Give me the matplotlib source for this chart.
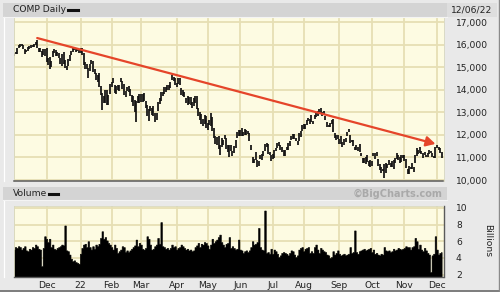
import matplotlib
matplotlib.use("Agg")
import matplotlib.pyplot as plt
from matplotlib.patches import Rectangle
from matplotlib.lines import Line2D
import numpy as np
import pandas as pd

W, H = 500, 292

# ---------------- data: daily (low, high) of COMP, per month ----------------
nov21 = [(15480, 15610), (15570, 15680), (15600, 15830), (15830, 15970), (15880, 16020),
         (15920, 16018), (15820, 15990), (15590, 15810), (15660, 15780), (15700, 15880),
         (15800, 15920), (15850, 15990), (15880, 15990), (15880, 16010), (15960, 16120),
         (15840, 16212), (15670, 15860), (15660, 15850), (15470, 15710), (15560, 15810),
         (15500, 15800)]
dec21 = [(15250, 15850), (15080, 15420), (14930, 15440), (15000, 15260), (15450, 15700),
         (15620, 15800), (15500, 15770), (15510, 15690), (15390, 15620), (15150, 15400),
         (15050, 15580), (15160, 15690), (14980, 15330), (14860, 15050), (15050, 15350),
         (15280, 15530), (15530, 15700), (15680, 15880), (15750, 15900), (15660, 15820),
         (15730, 15870), (15640, 15770)]
jan22 = [(15640, 15840), (15530, 15850), (15100, 15620), (14940, 15250), (14900, 15120),
         (14530, 14950), (14820, 15160), (15130, 15320), (14790, 15260), (14690, 14910),
         (14440, 14720), (14330, 14660), (14130, 14730), (13770, 14180), (13094, 13870),
         (13390, 13720), (13410, 14000), (13320, 13970), (13330, 13780), (13810, 14250)]
feb22 = [(14110, 14360), (14310, 14520), (13850, 14200), (13830, 14170), (13990, 14230),
         (13940, 14220), (14360, 14500), (14040, 14400), (13760, 14260), (13690, 13950),
         (13950, 14140), (13920, 14150), (13700, 14050), (13450, 13780), (13260, 13710),
         (13030, 13530), (12587, 13490), (13400, 13710), (13430, 13790)]
mar22 = [(13450, 13800), (13450, 13790), (13490, 13860), (13170, 13480), (12830, 13310),
         (12610, 13140), (13050, 13300), (12890, 13190), (12830, 13260), (12555, 12960),
         (12650, 12950), (13060, 13440), (13370, 13620), (13520, 13900), (13710, 13910),
         (13830, 14130), (13920, 14120), (13980, 14200), (14000, 14230), (14080, 14360),
         (14430, 14650), (14400, 14580), (14210, 14500)]
apr22 = [(14110, 14300), (14260, 14540), (14190, 14500), (13760, 14060), (13700, 13980),
         (13690, 13880), (13400, 13630), (13340, 13740), (13370, 13680), (13340, 13670),
         (13210, 13440), (13300, 13650), (13420, 13720), (13160, 13710), (12830, 13200),
         (12670, 13010), (12490, 12920), (12380, 12700), (12500, 12900), (12320, 12850)]
may22 = [(12200, 12540), (12420, 12640), (12410, 12980), (12170, 12770), (11860, 12290),
         (11600, 11970), (11550, 11920), (11360, 11950), (11110, 11530), (11480, 11840),
         (11560, 11780), (11820, 11990), (11390, 11860), (11240, 11560), (11036, 11560),
         (11300, 11540), (11060, 11300), (11200, 11490), (11400, 11790), (11880, 12140),
         (11950, 12200)]
jun22 = [(11930, 12230), (11930, 12320), (11950, 12130), (12010, 12270), (11980, 12200),
         (12060, 12190), (11750, 12080), (11320, 11560), (10760, 11010), (10740, 10930),
         (10890, 11240), (10565, 10870), (10640, 10860), (10940, 11120), (10880, 11150),
         (11080, 11270), (11290, 11610), (11460, 11640), (11170, 11590), (11100, 11260),
         (10860, 11110)]
jul22 = [(10920, 11140), (10970, 11330), (11270, 11440), (11440, 11640), (11510, 11700),
         (11350, 11530), (11250, 11480), (11060, 11350), (11070, 11310), (11340, 11480),
         (11350, 11650), (11500, 11720), (11770, 11950), (11820, 12060), (11800, 12060),
         (11720, 11860), (11560, 11730), (11750, 12080), (11920, 12190), (12170, 12430)]
aug22 = [(12260, 12460), (12240, 12480), (12420, 12680), (12610, 12750), (12480, 12690),
         (12580, 12860), (12460, 12620), (12700, 12860), (12770, 12970), (12850, 13050),
         (12990, 13140), (12950, 13181), (12830, 13000), (12900, 13040), (12680, 12840),
         (12360, 12570), (12350, 12440), (12340, 12520), (12480, 12650), (12140, 12690),
         (11880, 12070), (11790, 12010), (11810, 12000)]
sep22 = [(11600, 11800), (11610, 11970), (11460, 11680), (11550, 11810), (11700, 11880),
         (11950, 12140), (12130, 12270), (11630, 11990), (11670, 11780), (11520, 11760),
         (11320, 11460), (11340, 11540), (11300, 11480), (11220, 11580), (11050, 11200),
         (10740, 10960), (10760, 10980), (10720, 11030), (10810, 11090), (10620, 10850),
         (10570, 10870)]
oct22 = [(10600, 10830), (11050, 11190), (10910, 11210), (11050, 11220), (10640, 10930),
         (10460, 10700), (10320, 10560), (10390, 10500), (10089, 10700), (10320, 10760),
         (10530, 10700), (10660, 10900), (10560, 10760), (10570, 10850), (10480, 10870),
         (10740, 10970), (10950, 11200), (10900, 11130), (10740, 11000), (10810, 11110),
         (10960, 11090)]
nov22 = [(10850, 11090), (10520, 10930), (10260, 10470), (10260, 10600), (10470, 10590),
         (10480, 10760), (10350, 10590), (10770, 11120), (11060, 11410), (11150, 11330),
         (11200, 11480), (11150, 11290), (10980, 11200), (11090, 11250), (11010, 11110),
         (11040, 11180), (11150, 11310), (11200, 11280), (11040, 11200), (10960, 11070),
         (10990, 11470)]
dec22 = [(11400, 11570), (11320, 11470), (11210, 11400), (10980, 11250)]

# ---------------- data: daily volume (billions), per month ----------------
vol_nov21 = [5.0, 5.3, 5.2, 5.4, 5.3, 5.0, 5.2, 5.4, 4.9, 4.8, 5.1, 5.0, 5.3, 5.2, 5.6,
             5.4, 5.1, 5.0, 3.0, 5.2, 6.6]
vol_dec21 = [6.3, 5.9, 6.3, 5.3, 5.6, 5.1, 5.0, 5.2, 5.3, 5.4, 5.6, 5.5, 7.9, 4.9, 4.8,
             4.4, 3.9, 3.6, 3.7, 3.5, 3.4, 3.3]
vol_jan22 = [4.5, 5.2, 5.6, 5.7, 5.3, 6.0, 5.3, 5.0, 5.4, 5.1, 5.6, 5.4, 5.7, 6.4, 7.2,
             6.3, 6.5, 6.1, 5.8, 5.6]
vol_feb22 = [5.3, 5.0, 5.6, 5.2, 4.6, 4.8, 5.0, 5.4, 5.3, 4.7, 4.9, 4.7, 4.9, 5.1, 5.3,
             5.5, 6.2, 5.4, 5.8]
vol_mar22 = [5.6, 5.1, 5.0, 5.2, 6.6, 6.3, 5.6, 5.0, 5.1, 5.4, 5.6, 6.4, 5.7, 8.3, 5.4,
             5.3, 5.1, 5.2, 5.0, 5.2, 5.6, 5.3, 5.4]
vol_apr22 = [5.0, 5.2, 5.3, 5.6, 5.4, 5.2, 5.0, 5.1, 4.9, 5.0, 4.8, 4.9, 5.3, 5.5, 5.8,
             5.3, 5.7, 5.6, 5.9, 5.8]
vol_may22 = [5.5, 5.1, 5.6, 6.3, 5.8, 6.0, 6.2, 6.5, 6.8, 5.9, 5.6, 5.3, 5.7, 5.8, 6.5,
             5.2, 5.4, 5.2, 5.0, 5.1, 6.2]
vol_jun22 = [5.0, 4.9, 4.6, 4.8, 4.9, 4.7, 4.9, 5.3, 6.0, 5.6, 5.7, 5.9, 7.6, 5.3, 5.0,
             4.9, 9.7, 4.6, 4.7, 4.5, 5.1]
vol_jul22 = [4.5, 5.0, 4.8, 4.5, 4.1, 4.3, 4.6, 4.7, 4.6, 4.5, 4.3, 4.6, 4.9, 4.8, 4.4,
             4.1, 4.3, 5.0, 5.2, 5.3]
vol_aug22 = [4.8, 5.1, 5.2, 5.3, 4.6, 4.8, 4.6, 5.3, 5.6, 5.0, 4.6, 5.2, 5.0, 4.8, 4.7,
             4.4, 4.3, 4.0, 4.1, 4.8, 4.4, 4.6, 4.9]
vol_sep22 = [4.5, 4.3, 4.4, 4.5, 4.3, 4.4, 4.5, 5.3, 4.6, 4.7, 7.3, 4.7, 4.5, 4.8, 4.9,
             5.0, 5.1, 4.9, 5.0, 5.1, 5.2]
vol_oct22 = [4.7, 5.0, 4.5, 4.6, 4.4, 4.3, 4.5, 4.4, 5.3, 4.9, 4.8, 4.9, 4.7, 4.8, 5.1,
             4.9, 5.0, 5.2, 5.1, 5.0, 5.1]
vol_nov22 = [5.2, 5.4, 5.3, 5.3, 5.0, 5.3, 5.4, 6.4, 6.0, 5.1, 5.6, 5.0, 4.8, 5.2, 4.9,
             4.6, 4.4, 2.3, 4.3, 4.5, 6.6]
vol_dec22 = [5.0, 4.4, 4.6, 4.7]

months = ["2021-11", "2021-12", "2022-01", "2022-02", "2022-03", "2022-04", "2022-05",
          "2022-06", "2022-07", "2022-08", "2022-09", "2022-10", "2022-11", "2022-12"]
price_months = [nov21, dec21, jan22, feb22, mar22, apr22, may22, jun22, jul22, aug22,
                sep22, oct22, nov22, dec22]
vol_months = [vol_nov21, vol_dec21, vol_jan22, vol_feb22, vol_mar22, vol_apr22, vol_may22,
              vol_jun22, vol_jul22, vol_aug22, vol_sep22, vol_oct22, vol_nov22, vol_dec22]
holidays = ["2021-11-25", "2021-12-24", "2022-01-17", "2022-02-21", "2022-04-15",
            "2022-05-30", "2022-06-20", "2022-07-04", "2022-09-05", "2022-11-24"]
month_labels = ["", "Dec", "22", "Feb", "Mar", "Apr", "May", "Jun", "Jul", "Aug",
                "Sep", "Oct", "Nov", "Dec"]
price_ticks = [10000, 11000, 12000, 13000, 14000, 15000, 16000, 17000]
vol_ticks = [2, 4, 6, 8, 10]
trend_start = ("2021-11-22", 16290)
trend_end = ("2022-11-30", 11600)
title_text = "COMP Daily"
date_text = "12/06/22"

# ---------------- trading-day index (BigCharts spaces by trading day) -------------
days = pd.bdate_range("2021-11-01", "2022-12-06")
days = days[~days.isin(pd.to_datetime(holidays))]
day_month = days.strftime("%Y-%m")

idx, lows, highs, vols = [], [], [], []
month_first = []
for m, pm, vm in zip(months, price_months, vol_months):
    pos = np.where(day_month == m)[0]
    month_first.append(pos[0])
    for p, lh, v in zip(pos, pm, vm):
        idx.append(p)
        lows.append(lh[0])
        highs.append(lh[1])
        vols.append(v)
idx = np.array(idx, float)


def day_index(s):
    d = pd.Timestamp(s)
    return float(np.searchsorted(days, d))


# ---------------- figure ----------------
fig = plt.figure(figsize=(W / 100, H / 100), dpi=100)
fig.patch.set_facecolor("#e9e9e9")


def fx(x):
    return x / W


def fy(y):
    return 1 - y / H


def rect_px(x0, y0, x1, y1, color, z=0, ec="none", lw=0):
    fig.add_artist(Rectangle((fx(x0), fy(y1)), fx(x1) - fx(x0), fy(y0) - fy(y1),
                             transform=fig.transFigure, facecolor=color, edgecolor=ec,
                             linewidth=lw, zorder=z))


def line_px(x0, y0, x1, y1, color, lw=1.0, z=1):
    fig.add_artist(Line2D([fx(x0), fx(x1)], [fy(y0), fy(y1)], transform=fig.transFigure,
                          color=color, linewidth=lw, zorder=z))


# outer frame
line_px(0, 290.5, 500, 290.5, "#6a6a6a", 1.2)
line_px(498.5, 0, 498.5, 291, "#8a8a8a", 1.0)
line_px(4, 17, 4, 181, "#ffffff", 0.9)
line_px(4, 201, 4, 277, "#ffffff", 0.9)
# header bars
rect_px(3, 3, 447, 16.5, "#d4d4d4")
rect_px(447, 3, 497, 16.5, "#dedede")
rect_px(3, 186.5, 447, 200, "#d4d4d4")
line_px(3, 16.8, 447, 16.8, "#f4f4f4", 0.8)
line_px(3, 200.3, 447, 200.3, "#f4f4f4", 0.8)

FONT = "DejaVu Sans"
fig.text(fx(13), fy(10), title_text, fontsize=6.6, family=FONT, color="#222222",
         va="center", ha="left")
line_px(68, 10, 78, 10, "#111111", 2.2)
fig.text(fx(472), fy(10), date_text, fontsize=6.6, family=FONT, color="#222222",
         va="center", ha="center")
fig.text(fx(13), fy(194), "Volume", fontsize=6.6, family=FONT, color="#222222",
         va="center", ha="left")
line_px(49, 194, 58, 194, "#111111", 2.2)
fig.text(fx(443), fy(194), "\u00a9BigCharts.com", fontsize=7, family=FONT,
         color="#a9a9a9", fontweight="bold", va="center", ha="right")
fig.text(fx(488), fy(241), "Billions", fontsize=6.6, family=FONT, color="#222222",
         va="center", ha="center", rotation=270)

BG = "#fdfbe2"
GRID = "#e6dfb4"
XL = (-0.3, 277.2)

# ---------------- price axes ----------------
axp = fig.add_axes([fx(13.5), fy(181), (443.5 - 13.5) / W, (181 - 17) / H])
axp.set_facecolor(BG)
axp.set_xlim(*XL)
axp.set_ylim(9956, 17222)
for t in price_ticks:
    axp.axhline(t, color=GRID, lw=1.3, zorder=0)
for m in month_first:
    axp.axvline(m, color=GRID, lw=1.3, zorder=0)
axp.vlines(idx, lows, highs, color="#111111", lw=1.25, zorder=2)
x0, x1 = day_index(trend_start[0]), day_index(trend_end[0])
axp.annotate("", xy=(x1, trend_end[1]), xytext=(x0, trend_start[1]),
             arrowprops=dict(arrowstyle="-|>,head_length=0.55,head_width=0.3",
                             color="#e5452a", lw=1.6, shrinkA=0, shrinkB=0), zorder=3)
axp.set_xticks([])
axp.yaxis.tick_right()
axp.set_yticks(price_ticks)
axp.set_yticklabels([f"{t:,}" for t in price_ticks], fontsize=6.6, family=FONT,
                    color="#222222")
axp.tick_params(axis="y", length=0, pad=9)
for s in ["top", "left", "right"]:
    axp.spines[s].set_color("#d8d8c0")
    axp.spines[s].set_linewidth(0.6)
axp.spines["bottom"].set_color("#5a5a5a")
axp.spines["bottom"].set_linewidth(1.1)

# ---------------- volume axes ----------------
axv = fig.add_axes([fx(13.5), fy(276.5), (443.5 - 13.5) / W, (276.5 - 206) / H])
axv.set_facecolor(BG)
axv.set_xlim(*XL)
axv.set_ylim(1.76, 10.24)
for t in vol_ticks:
    axv.axhline(t, color=GRID, lw=1.3, zorder=0)
for m in month_first:
    axv.axvline(m, color=GRID, lw=1.3, zorder=0)
axv.fill_between(idx, 0, vols, step="mid", color="#000000", lw=0.4, edgecolor="#000000",
                 zorder=2)
axv.yaxis.tick_right()
axv.set_yticks(vol_ticks)
axv.set_yticklabels([str(t) for t in vol_ticks], fontsize=6.6, family=FONT,
                    color="#222222")
axv.tick_params(axis="y", length=0, pad=9)
axv.set_xticks(month_first)
axv.set_xticklabels(month_labels, fontsize=6.6, family=FONT, color="#222222")
axv.tick_params(axis="x", length=0, pad=3)
for s in ["top", "left"]:
    axv.spines[s].set_color("#d8d8c0")
    axv.spines[s].set_linewidth(0.6)
for s in ["bottom", "right"]:
    axv.spines[s].set_color("#5a5a5a")
    axv.spines[s].set_linewidth(1.0)

fig.savefig("out.png", dpi=100, facecolor=fig.get_facecolor())
